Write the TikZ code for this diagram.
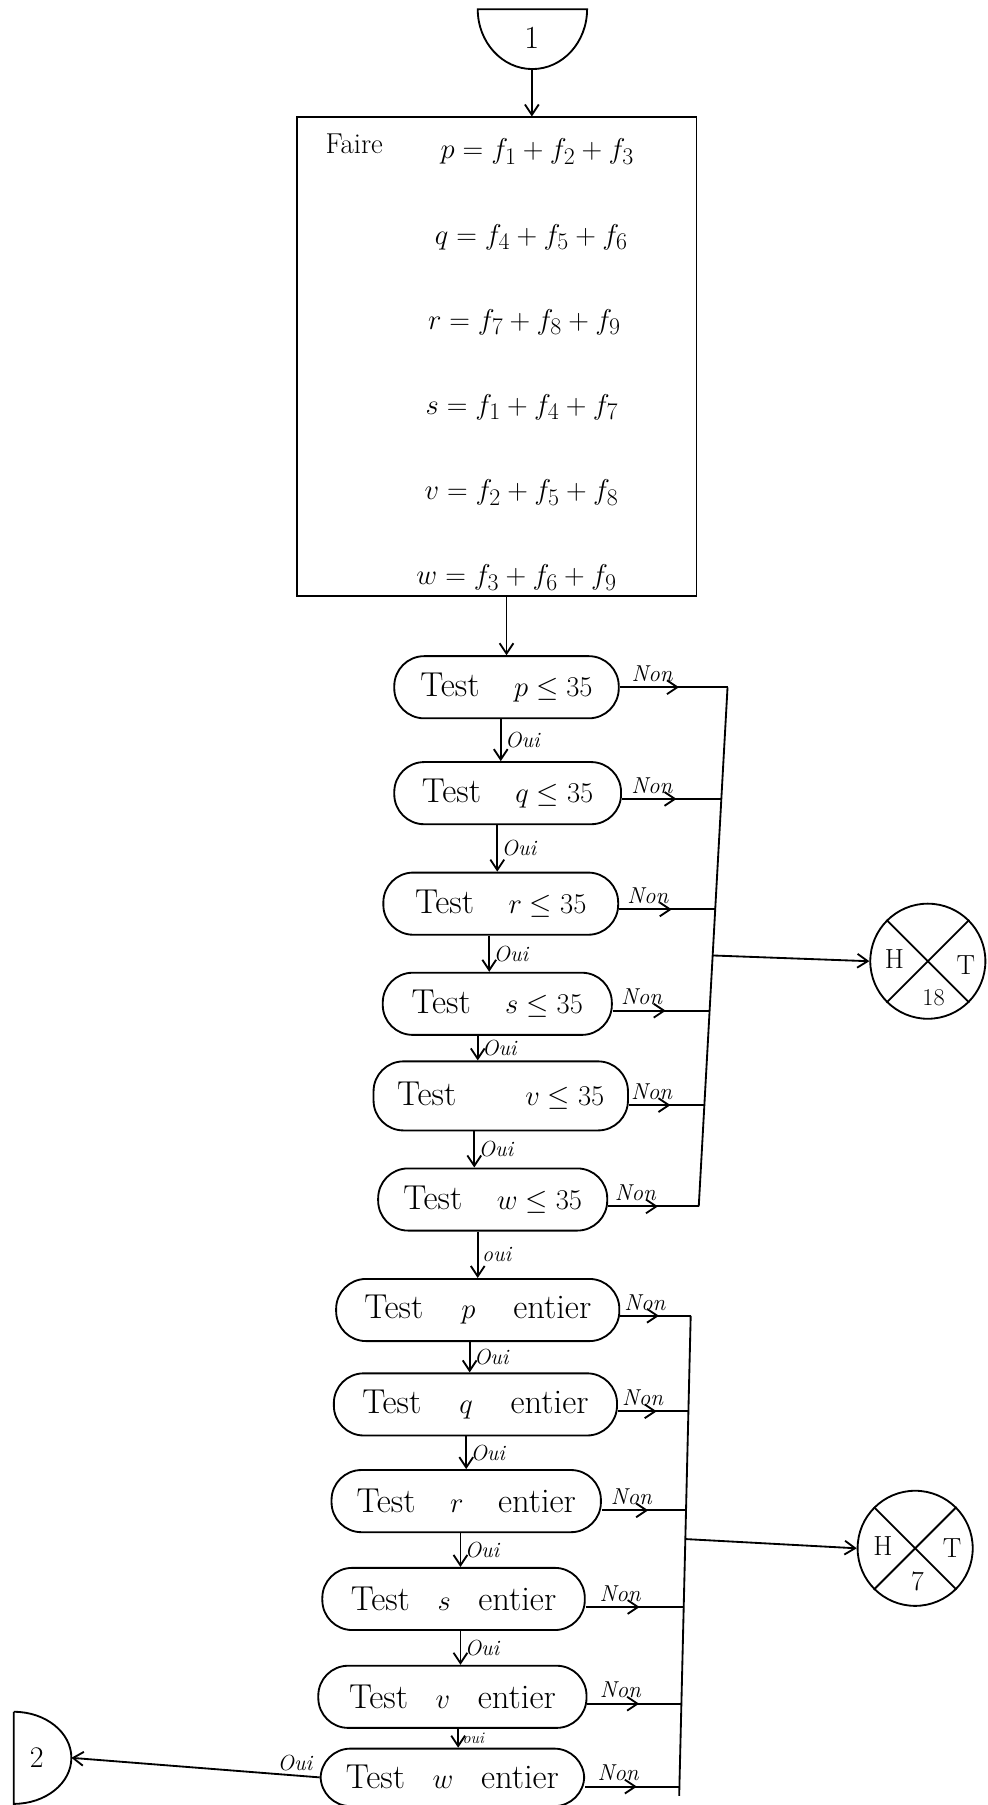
\documentclass[tikz,border=0pt]{standalone}
\usetikzlibrary{arrows.meta,decorations.markings}
\begin{document}
\begin{tikzpicture}[x=1pt,y=1pt,line width=1.6pt,
  >={Straight Barb[length=9pt,width=12pt]},
  test/.style={draw, rectangle, rounded corners=26pt, minimum height=54pt, inner sep=2pt, font=\fontsize{30}{36}\selectfont},
  nonline/.style={postaction={decorate}, decoration={markings, mark=at position 0.55 with {\arrow{Straight Barb[length=9pt,width=12pt]}}}},
  ouilbl/.style={font=\fontsize{19}{21}\selectfont\itshape, inner sep=3pt},
  nonlbl/.style={font=\fontsize{20}{22}\selectfont\itshape, inner sep=4pt},
  eqn/.style={anchor=base west, inner sep=0pt, font=\fontsize{31}{36}\selectfont},
  htcirc/.style={draw, circle, minimum size=100pt, inner sep=0pt},
  htlbl/.style={font=\fontsize{24}{26}\selectfont, inner sep=0pt}
]
\useasboundingbox (0,0) rectangle (858,-1568);

% connector 1
\draw (415,-8) -- (510,-8) arc[start angle=0, end angle=-180, x radius=47.5, y radius=52] -- cycle;
\node[font=\fontsize{28}{30}\selectfont] (c1t) at (462,-33) {1};
\coordinate (c1) at (462,-60);

% main box
\node[draw, rectangle, minimum width=347pt, minimum height=416pt, inner sep=0pt] (box) at (431.5,-310) {};
\draw[->] (c1) -- (c1 |- box.north);
\node[anchor=base west, inner sep=0pt, font=\fontsize{25}{28}\selectfont] (faire) at (282,-133) {Faire};
\node[eqn] (e1) at (382,-138) {$p = f_1 + f_2 + f_3$};
\node[eqn] (e2) at (377,-212) {$q = f_4 + f_5 + f_6$};
\node[eqn] (e3) at (371,-286) {$r = f_7 + f_8 + f_9$};
\node[eqn] (e4) at (369,-360) {$s = f_1 + f_4 + f_7$};
\node[eqn] (e5) at (368,-434) {$v = f_2 + f_5 + f_8$};
\node[eqn] (e6) at (361,-508) {$w = f_3 + f_6 + f_9$};

% tests <= 35
\node[test, minimum width=195pt] (t1) at (440,-597) {Test\quad$p \leq 35$};
\node[test, minimum width=197pt] (t2) at (441,-689) {Test\quad$q \leq 35$};
\node[test, minimum width=204pt] (t3) at (435,-785) {Test\quad$r \leq 35$};
\node[test, minimum width=199pt] (t4) at (432,-872) {Test\quad$s \leq 35$};
\node[test, minimum width=221pt, minimum height=60pt] (t5) at (435,-952) {Test\qquad$v \leq 35$};
\node[test, minimum width=199pt] (t6) at (428,-1042) {Test\quad$w \leq 35$};

% tests entier
\node[test, minimum width=246pt] (t7) at (415,-1138) {Test\hspace{1.1em}$p$\hspace{1.1em}entier};
\node[test, minimum width=246pt] (t8) at (413,-1220) {Test\hspace{1.1em}$q$\hspace{1.1em}entier};
\node[test, minimum width=234pt] (t9) at (405,-1304) {Test\hspace{1em}$r$\hspace{1em}entier};
\node[test, minimum width=228pt] (t10) at (394,-1389) {Test\hspace{0.8em}$s$\hspace{0.8em}entier};
\node[test, minimum width=233pt] (t11) at (393,-1474) {Test\hspace{0.8em}$v$\hspace{0.8em}entier};
\node[test, minimum width=229pt, minimum height=50pt] (t12) at (393,-1544) {Test\hspace{0.8em}$w$\hspace{0.8em}entier};

% box -> t1
\draw[->] (box.south -| t1.north) -- (t1.north);

% oui arrows
\draw[->] ([xshift=-5pt]t1.south) -- node[ouilbl, right]{Oui} ([xshift=-6pt]t2.north);
\draw[->] ([xshift=-9pt]t2.south) -- node[ouilbl, right]{Oui} ([xshift=-3pt]t3.north);
\draw[->] ([xshift=-10pt]t3.south) -- node[ouilbl, right]{Oui} ([xshift=-7pt]t4.north);
\draw[->] ([xshift=-17pt]t4.south) -- node[ouilbl, right]{Oui} ([xshift=-20pt]t5.north);
\draw[->] ([xshift=-23pt]t5.south) -- node[ouilbl, right]{Oui} ([xshift=-16pt]t6.north);
\draw[->] ([xshift=-13pt]t6.south) -- node[ouilbl, right]{oui} (t7.north);
\draw[->] ([xshift=-7pt]t7.south) -- node[ouilbl, right]{Oui} ([xshift=-5pt]t8.north);
\draw[->] ([xshift=-8pt]t8.south) -- node[ouilbl, right]{Oui} (t9.north);
\draw[->] ([xshift=-5pt]t9.south) -- node[ouilbl, right]{Oui} ([xshift=6pt]t10.north);
\draw[->] ([xshift=6pt]t10.south) -- node[ouilbl, right]{Oui} ([xshift=7pt]t11.north);
\draw[->] ([xshift=5pt]t11.south) -- node[ouilbl, right, font=\fontsize{14}{16}\selectfont\itshape]{oui} ([xshift=5pt]t12.north);

% bus 1
\coordinate (b1) at (632,-597);
\coordinate (b2) at (626.5,-694);
\coordinate (b3) at (621,-790);
\coordinate (b4) at (616,-878);
\coordinate (b5) at (612,-960);
\coordinate (b6) at (607,-1048);
\coordinate (bm1) at (619,-830);
\draw (b1) -- (b6);
\draw[nonline] (t1.east |- b1) -- node[nonlbl, above, pos=0.3]{Non} (b1);
\draw[nonline] (t2.east |- b2) -- node[nonlbl, above, pos=0.3]{Non} (b2);
\draw[nonline] (t3.east |- b3) -- node[nonlbl, above, pos=0.3]{Non} (b3);
\draw[nonline] (t4.east |- b4) -- node[nonlbl, above, pos=0.3]{Non} (b4);
\draw[nonline] (t5.east |- b5) -- node[nonlbl, above, pos=0.3]{Non} (b5);
\draw[nonline] (t6.east |- b6) -- node[nonlbl, above, pos=0.3]{Non} (b6);

% HT 18
\node[htcirc] (h1) at (806,-835) {};
\draw (h1.north west) -- (h1.south east);
\draw (h1.north east) -- (h1.south west);
\node[htlbl] (h1H) at (777,-833) {H};
\node[htlbl] (h1T) at (839,-838) {T};
\node[htlbl, font=\fontsize{21}{23}\selectfont] (h1N) at (811,-867) {18};
\draw[->] (bm1) -- (h1.west);

% bus 2
\coordinate (b7) at (600,-1143);
\coordinate (b8) at (598,-1226);
\coordinate (b9) at (596,-1312);
\coordinate (b10) at (594,-1396);
\coordinate (b11) at (592,-1480);
\coordinate (b12) at (590,-1552);
\coordinate (bm2) at (596,-1337);
\draw (b7) -- (590,-1560);
\draw[nonline] (t7.east |- b7) -- node[nonlbl, above, pos=0.35]{Non} (b7);
\draw[nonline] (t8.east |- b8) -- node[nonlbl, above, pos=0.35]{Non} (b8);
\draw[nonline] (t9.east |- b9) -- node[nonlbl, above, pos=0.35]{Non} (b9);
\draw[nonline] (t10.east |- b10) -- node[nonlbl, above, pos=0.35]{Non} (b10);
\draw[nonline] (t11.east |- b11) -- node[nonlbl, above, pos=0.35]{Non} (b11);
\draw[nonline] (t12.east |- b12) -- node[nonlbl, above, pos=0.35]{Non} (b12);

% HT 7
\node[htcirc] (h2) at (795,-1345) {};
\draw (h2.north west) -- (h2.south east);
\draw (h2.north east) -- (h2.south west);
\node[htlbl] (h2H) at (767,-1343) {H};
\node[htlbl] (h2T) at (827,-1345) {T};
\node[htlbl] (h2N) at (797,-1374) {7};
\draw[->] (bm2) -- (h2.west);

% connector 2
\draw (12,-1487) -- (12,-1567) arc[start angle=-90, end angle=90, x radius=50, y radius=40];
\node[font=\fontsize{26}{28}\selectfont] (c2t) at (32,-1527) {2};
\coordinate (c2) at (62,-1527);
\draw[->] (t12.west) -- node[ouilbl, above, pos=0.1]{Oui} (c2);

\end{tikzpicture}
\end{document}
